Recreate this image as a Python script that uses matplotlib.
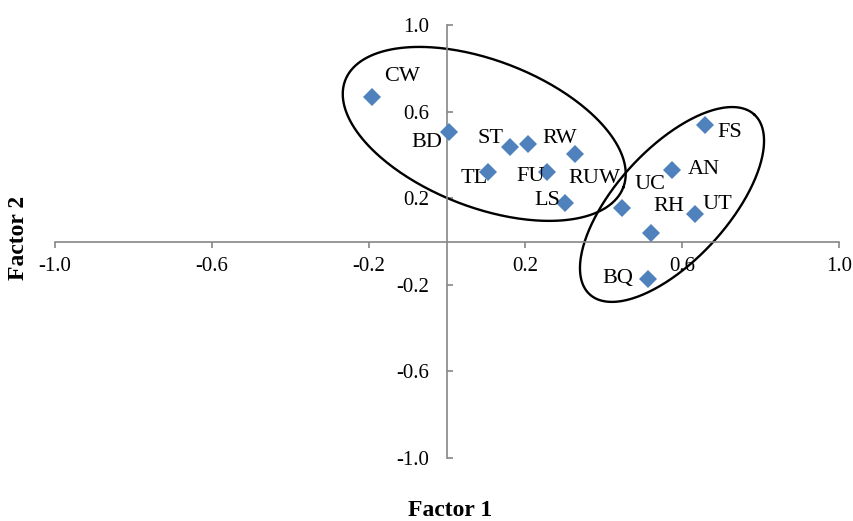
import numpy as np
import matplotlib
matplotlib.use("Agg")
import matplotlib.pyplot as plt

# factor loadings
codes = ["CW", "BD", "ST", "RW", "TL", "FU", "RUW", "LS",
         "UC", "FS", "AN", "UT", "RH", "BQ"]
factor1 = [-0.192, 0.005, 0.161, 0.207, 0.104, 0.255, 0.327, 0.301,
           0.447, 0.658, 0.574, 0.633, 0.520, 0.513]
factor2 = [0.667, 0.508, 0.436, 0.451, 0.320, 0.320, 0.402, 0.179,
           0.156, 0.540, 0.331, 0.125, 0.040, -0.172]

ticks = [-1.0, -0.6, -0.2, 0.2, 0.6, 1.0]
tick_labels = ["-1.0", "-0.6", "-0.2", "0.2", "0.6", "1.0"]

# label offsets in points (dx, dy) from each marker
offsets = [(22, 15), (-16, -8), (-14, 6), (23, 4), (-9.5, -4.5), (-12, -3),
           (14, -17), (-12.6, 1.3), (20, 17), (17.6, -6), (23, 0.5),
           (16, 7), (13, 19), (-21.5, 0.5)]

plt.rcParams['font.family'] = ['Liberation Serif', 'DejaVu Serif']

fig = plt.figure(figsize=(8.54, 5.21), dpi=100)
ax = fig.add_axes([55/854, 1 - 458/521, 784/854, 433/521])
ax.set_xlim(-1, 1)
ax.set_ylim(-1, 1)

gray = "#868686"
for s in ["top", "right"]:
    ax.spines[s].set_visible(False)
for s in ["left", "bottom"]:
    ax.spines[s].set_position(("data", 0))
    ax.spines[s].set_color(gray)
    ax.spines[s].set_linewidth(1.2)

ax.set_xticks(ticks)
ax.set_xticklabels(tick_labels)
ax.set_yticks(ticks)
ax.set_yticklabels(tick_labels)
ax.tick_params(axis="x", direction="out", length=4, width=1.2, color=gray,
               pad=7, labelsize=15)
ax.tick_params(axis="y", direction="in", length=4, width=1.2, color=gray,
               pad=13, labelsize=15)

# group ellipses: centre, semi-axis vectors (data units)
ellipses = [((0.095, 0.497), (0.3546, -0.2477), (-0.0674, -0.3163)),
            ((0.574, 0.171), (0.2101, 0.4151), (0.1048, -0.1738))]
t = np.linspace(0, 2*np.pi, 300)
for c, u, v in ellipses:
    ex = c[0] + u[0]*np.cos(t) + v[0]*np.sin(t)
    ey = c[1] + u[1]*np.cos(t) + v[1]*np.sin(t)
    ax.plot(ex, ey, color="black", lw=1.7, zorder=2)

ax.plot(factor1, factor2, "D", color="#4F81BD", markersize=9,
        markeredgewidth=0, zorder=3, clip_on=False)

for code, x, y, off in zip(codes, factor1, factor2, offsets):
    ax.annotate(code, (x, y), xytext=off, textcoords="offset points",
                ha="center", va="center", fontsize=16)

fig.text(450/854, 1 - 510/521, "Factor 1", ha="center", va="center",
         fontsize=17, fontweight="bold")
fig.text(19/854, 1 - 238/521, "Factor 2", ha="center", va="center",
         fontsize=17, fontweight="bold", rotation=90)

fig.savefig("out.png", dpi=100)
